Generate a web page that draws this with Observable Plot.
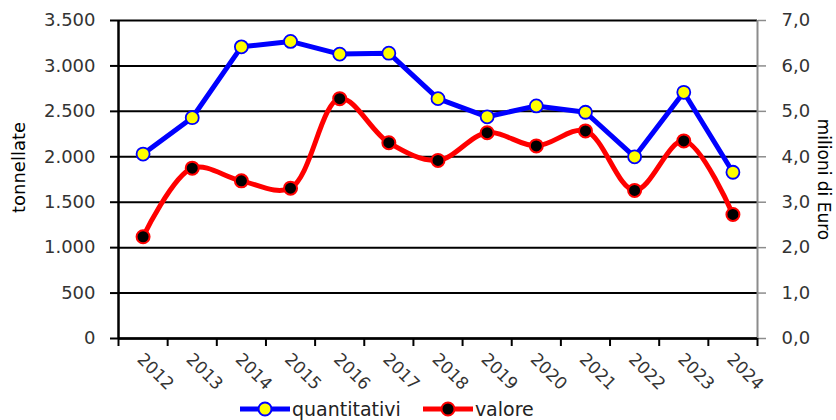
<!DOCTYPE html>
<html>
<head>
<meta charset="utf-8">
<script src="https://cdn.jsdelivr.net/npm/d3@7"></script>
<script src="https://cdn.jsdelivr.net/npm/@observablehq/plot@0.6"></script>
<style>
  html, body { margin: 0; padding: 0; background: #fff; overflow: hidden; }
  body { width: 836px; height: 420px; font-family: "DejaVu Sans", sans-serif; }
  #legend { display: flex; align-items: center; height: 22px; padding-left: 240px; font-size: 19px; color: #222; font-family: "DejaVu Sans", sans-serif; }
  #legend .item { display: flex; align-items: center; margin-right: 22px; }
  #legend svg { margin-right: 2px; }
</style>
</head>
<body>
<div id="chart"></div>
<div id="legend"></div>
<script>
const years = ["2012","2013","2014","2015","2016","2017","2018","2019","2020","2021","2022","2023","2024"];
const quantitativi = [2030, 2430, 3210, 3270, 3130, 3140, 2640, 2440, 2560, 2490, 2000, 2710, 1830];
const valore = [2.24, 3.75, 3.47, 3.31, 5.28, 4.31, 3.92, 4.53, 4.24, 4.57, 3.26, 4.35, 2.73];
const leftTicks = [0, 500, 1000, 1500, 2000, 2500, 3000, 3500];

const ratio = 3500 / 7;
const bounds = d3.range(-0.5, years.length, 1);
const itFmt = d3.formatLocale({decimal: ",", thousands: ".", grouping: [3], currency: ["", "€"]}).format(",");

const qData = years.map((y, i) => ({i, v: quantitativi[i]}));
const vData = years.map((y, i) => ({i, v: valore[i] * ratio}));

const chart = Plot.plot({
  width: 836,
  height: 398,
  marginLeft: 118,
  marginRight: 79,
  marginTop: 20,
  marginBottom: 60,
  style: {fontFamily: "'DejaVu Sans', sans-serif", fontSize: "18px", color: "#333", background: "#fff"},
  x: {type: "linear", domain: [-0.5, years.length - 0.5], axis: null},
  y: {domain: [0, 3500], axis: null},
  marks: [
    Plot.ruleY(leftTicks, {stroke: "#000", strokeWidth: 2}),
    Plot.axisY({anchor: "left", ticks: leftTicks, tickFormat: itFmt, tickSize: 8, tickPadding: 15, stroke: "#000", strokeWidth: 2, fill: "#333", fontSize: 18, label: null}),
    Plot.axisY({anchor: "right", ticks: leftTicks, tickFormat: d => (d / ratio).toFixed(1).replace(".", ","), tickSize: 8, tickPadding: 16, stroke: "#8c8c8c", strokeWidth: 1.5, fill: "#333", fontSize: 18, label: null}),
    Plot.ruleX([years.length - 0.5], {stroke: "#8c8c8c", strokeWidth: 2}),
    Plot.ruleX([-0.5], {stroke: "#000", strokeWidth: 2.5}),
    Plot.ruleY([0], {stroke: "#000", strokeWidth: 2.5}),
    Plot.axisX({ticks: bounds, tickFormat: () => "", tickSize: 8, stroke: "#000", strokeWidth: 2, label: null}),
    Plot.text(years, {x: (d, i) => i, y: () => 0, text: d => d, rotate: 45, textAnchor: "start", dx: -3, dy: 18, fontSize: 17, fill: "#333"}),
    Plot.text(["tonnellate"], {frameAnchor: "left", textAnchor: "middle", dx: -99, dy: -12, rotate: -90, fontSize: 18, fill: "#000"}),
    Plot.text(["milioni di Euro"], {frameAnchor: "right", textAnchor: "middle", dx: 66, dy: 0, rotate: 90, fontSize: 17, fill: "#000"}),
    Plot.line(vData, {x: "i", y: "v", stroke: "#ff0000", strokeWidth: 5, curve: "catmull-rom"}),
    Plot.dot(vData, {x: "i", y: "v", r: 6.5, fill: "#000", stroke: "#ff0000", strokeWidth: 2}),
    Plot.line(qData, {x: "i", y: "v", stroke: "#0000ff", strokeWidth: 5}),
    Plot.dot(qData, {x: "i", y: "v", r: 6.5, fill: "#ffff00", stroke: "#0000ff", strokeWidth: 1.8})
  ]
});
document.getElementById("chart").appendChild(chart);

const legendItems = [
  {label: "quantitativi", line: "#0000ff", fill: "#ffff00", stroke: "#0000ff"},
  {label: "valore", line: "#ff0000", fill: "#000", stroke: "#ff0000"}
];
const legend = document.getElementById("legend");
for (const it of legendItems) {
  const div = document.createElement("div");
  div.className = "item";
  div.innerHTML = `<svg width="50" height="16"><line x1="0" y1="8" x2="50" y2="8" stroke="${it.line}" stroke-width="5"/><circle cx="25" cy="8" r="6.5" fill="${it.fill}" stroke="${it.stroke}" stroke-width="2"/></svg><span>${it.label}</span>`;
  legend.appendChild(div);
}
</script>
</body>
</html>
